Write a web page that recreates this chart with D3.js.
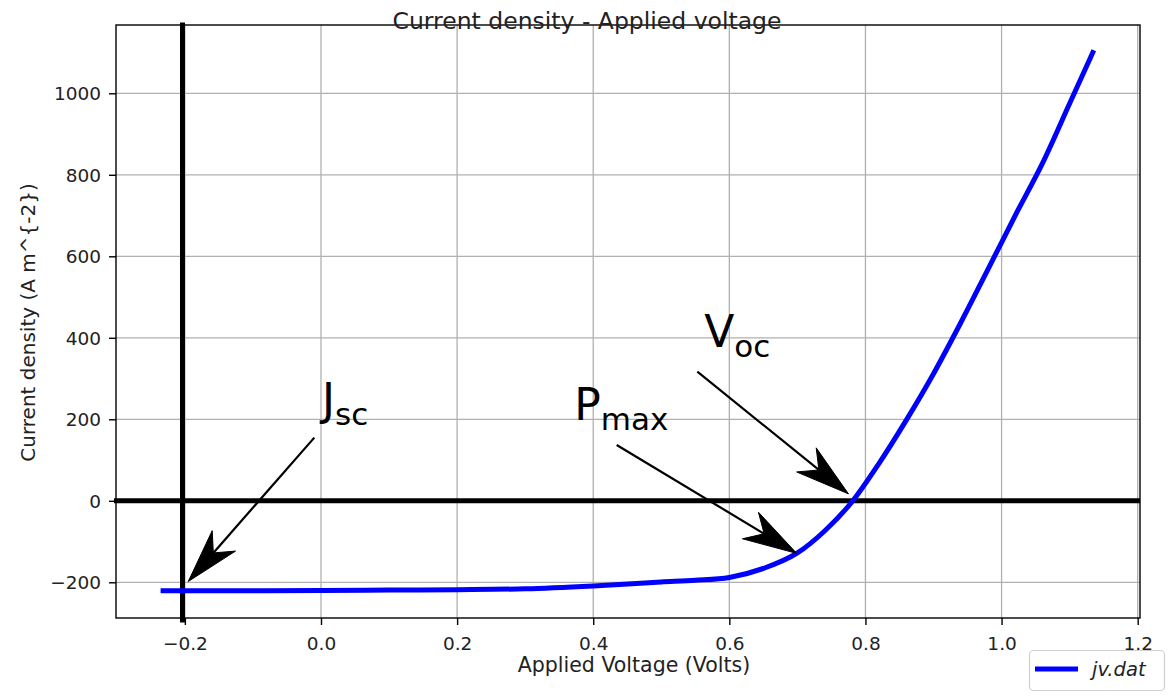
<!DOCTYPE html>
<html>
<head>
<meta charset="utf-8">
<script src="https://cdn.jsdelivr.net/npm/d3@7/dist/d3.min.js"></script>
<style>
  html, body { margin: 0; padding: 0; background: #fff; }
  svg { display: block; font-family: "DejaVu Sans", sans-serif; }
</style>
</head>
<body>
<svg id="chart" width="1174" height="700"></svg>
<script>
// ---- data ----
const voltage = [-0.232, -0.1, 0.0, 0.1, 0.2, 0.3, 0.4, 0.5, 0.55, 0.6, 0.65, 0.7, 0.74, 0.78, 0.82, 0.86, 0.90, 0.94, 0.98, 1.02, 1.06, 1.10, 1.134];
const currentDensity = [-221, -220.5, -220, -219, -218, -216, -209, -199, -195, -188, -166, -128, -74, -3, 92, 198, 312, 437, 568, 700, 828, 975, 1100];
const xTicks = [-0.2, 0.0, 0.2, 0.4, 0.6, 0.8, 1.0, 1.2];
const yTicks = [-200, 0, 200, 400, 600, 800, 1000];
const xDomain = [-0.3012, 1.2034];
const yDomain = [-287.6, 1167.6];
const vLineX = -0.2035;   // black vertical marker line
const hLineY = 0;         // black horizontal marker line
// annotations: label main, subscript, text anchor (data), arrow start (data), arrow tip (data)
const annLabels = ["J", "P", "V"];
const annSubs = ["sc", "max", "oc"];
const annText = [[0.0015, 210], [0.372, 198], [0.563, 378]];
const annFrom = [[-0.0098, 155], [0.4345, 137], [0.553, 317]];
const annTip = [[-0.195, -198], [0.699, -129], [0.775, 17]];
const titleText = "Current density - Applied voltage";
const xLabel = "Applied Voltage (Volts)";
const yLabel = "Current density (A m^{-2})";
const legendLabel = "jv.dat";

// ---- layout ----
const L = 116, R = 1140, T = 25, B = 618;
const svg = d3.select("#chart");
const x = d3.scaleLinear().domain(xDomain).range([L, R]);
const y = d3.scaleLinear().domain(yDomain).range([B, T]);
const txt = "#222";

// grid
const g = svg.append("g");
g.selectAll("line.gx").data(xTicks).join("line")
  .attr("x1", d => x(d)).attr("x2", d => x(d)).attr("y1", T).attr("y2", B)
  .attr("stroke", "#b0b0b0").attr("stroke-width", 1.3);
g.selectAll("line.gy").data(yTicks).join("line")
  .attr("x1", L).attr("x2", R).attr("y1", d => y(d)).attr("y2", d => y(d))
  .attr("stroke", "#b0b0b0").attr("stroke-width", 1.3);

// axes
const fmtX = d3.format(".1f");
const xAxis = svg.append("g").attr("transform", `translate(0,${B})`)
  .call(d3.axisBottom(x).tickValues(xTicks).tickFormat(fmtX).tickSize(7).tickPadding(8));
const yAxis = svg.append("g").attr("transform", `translate(${L},0)`)
  .call(d3.axisLeft(y).tickValues(yTicks).tickFormat(d3.format("d")).tickSize(7).tickPadding(8));
[xAxis, yAxis].forEach(a => {
  a.select(".domain").remove();
  a.selectAll(".tick line").attr("stroke", "#000").attr("stroke-width", 1.4);
  a.selectAll(".tick text").attr("fill", txt).attr("font-size", 18.5)
    .attr("font-family", "DejaVu Sans");
});
xAxis.selectAll(".tick text").attr("dy", "0.9em");
yAxis.selectAll(".tick text").attr("dy", "0.35em");

// frame
svg.append("rect").attr("x", L).attr("y", T).attr("width", R - L).attr("height", B - T)
  .attr("fill", "none").attr("stroke", "#000").attr("stroke-width", 1.4);

// marker lines
svg.append("line").attr("x1", x(vLineX)).attr("x2", x(vLineX)).attr("y1", T).attr("y2", B + 2)
  .attr("stroke", "#000").attr("stroke-width", 5).attr("stroke-linecap", "square");
svg.append("line").attr("x1", L - 2).attr("x2", R).attr("y1", y(hLineY)).attr("y2", y(hLineY))
  .attr("stroke", "#000").attr("stroke-width", 5);

// curve
const pts = voltage.map((v, i) => [v, currentDensity[i]]);
svg.append("path").datum(pts)
  .attr("d", d3.line().curve(d3.curveMonotoneX).x(d => x(d[0])).y(d => y(d[1])))
  .attr("fill", "none").attr("stroke", "#0000ff").attr("stroke-width", 5)
  .attr("stroke-linecap", "square").attr("stroke-linejoin", "round");

// annotations
function arrow(from, tip) {
  const x0 = x(from[0]), y0 = y(from[1]), x1 = x(tip[0]), y1 = y(tip[1]);
  const dx = x1 - x0, dy = y1 - y0, len = Math.hypot(dx, dy);
  const ux = dx / len, uy = dy / len, nx = -uy, ny = ux;
  const Lh = 54, W = 15.5, N = 38;
  const notch = [x1 - ux * N, y1 - uy * N];
  svg.append("line").attr("x1", x0).attr("y1", y0).attr("x2", notch[0]).attr("y2", notch[1])
    .attr("stroke", "#000").attr("stroke-width", 2.2);
  const p = [
    [x1, y1],
    [x1 - ux * Lh + nx * W, y1 - uy * Lh + ny * W],
    notch,
    [x1 - ux * Lh - nx * W, y1 - uy * Lh - ny * W]
  ];
  svg.append("path").attr("d", "M" + p.map(q => q.join(",")).join("L") + "Z")
    .attr("fill", "#000").attr("stroke", "#000").attr("stroke-width", 1).attr("stroke-linejoin", "miter");
}
annLabels.forEach((lab, i) => {
  arrow(annFrom[i], annTip[i]);
  const t = svg.append("text").attr("x", x(annText[i][0])).attr("y", y(annText[i][1]))
    .attr("font-size", 44).attr("fill", "#000").attr("font-family", "DejaVu Sans");
  t.append("tspan").text(lab);
  t.append("tspan").attr("font-size", 31).attr("dy", 10).text(annSubs[i]);
});

// title
svg.append("text").attr("x", 587).attr("y", 29).attr("text-anchor", "middle")
  .attr("font-size", 23.5).attr("fill", txt).text(titleText);

// axis labels
svg.append("text").attr("x", (L + R) / 2 + 6).attr("y", 672).attr("text-anchor", "middle")
  .attr("font-size", 20.5).attr("fill", txt).text(xLabel);
svg.append("text").attr("transform", `translate(35,${(T + B) / 2 + 1}) rotate(-90)`)
  .attr("text-anchor", "middle").attr("font-size", 20).attr("fill", txt).text(yLabel);

// legend
const lg = svg.append("g");
lg.append("rect").attr("x", 1029.5).attr("y", 650.5).attr("width", 135).attr("height", 40)
  .attr("rx", 4).attr("fill", "#fff").attr("stroke", "#d0d0d0").attr("stroke-width", 1.2);
lg.append("line").attr("x1", 1035).attr("x2", 1078).attr("y1", 669).attr("y2", 669)
  .attr("stroke", "#0000ff").attr("stroke-width", 5);
lg.append("text").attr("x", 1092).attr("y", 676).attr("font-size", 19.5)
  .attr("font-style", "italic").attr("fill", txt).text(legendLabel);
</script>
</body>
</html>
